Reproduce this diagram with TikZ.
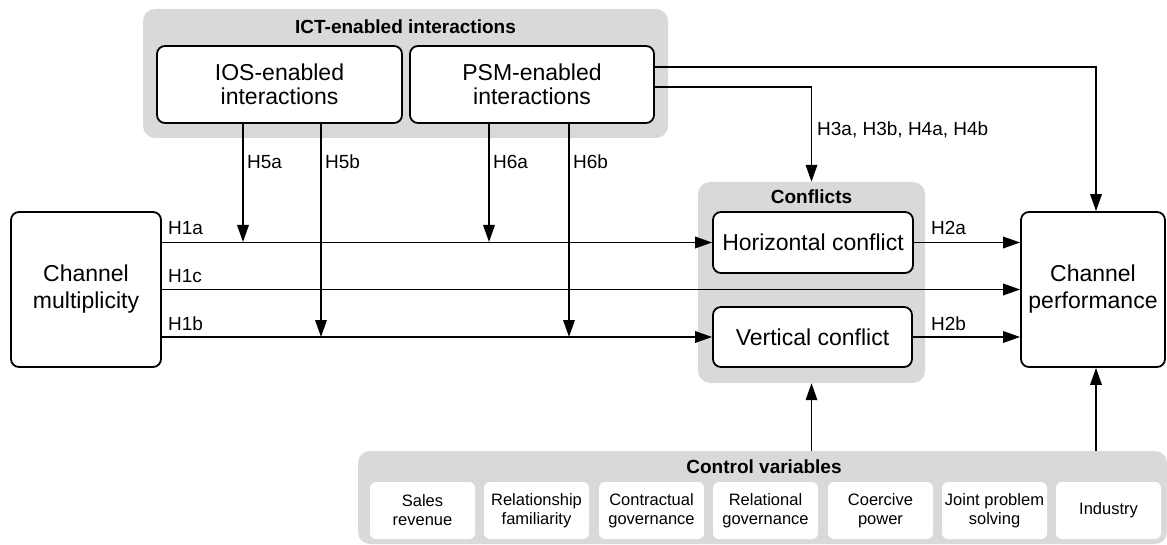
\documentclass[tikz,border=0pt]{standalone}
\usepackage{fontspec}
\setmainfont{Liberation Sans}
\usetikzlibrary{arrows.meta,calc}
\definecolor{grp}{HTML}{D9D9D9}
\tikzset{
  grpbox/.style={fill=grp, draw=none, rounded corners=12pt, inner sep=0pt},
  mainbox/.style={draw=black, line width=1.8pt, fill=white, rounded corners=8pt, align=center, inner sep=0pt},
  ctrlbox/.style={fill=white, draw=none, rounded corners=6pt, align=center, inner sep=0pt,
    minimum width=105pt, minimum height=57pt, font=\fontsize{16.5}{19}\selectfont},
  grptitle/.style={font=\bfseries\fontsize{19}{22}\selectfont, inner sep=0pt},
  lbl/.style={font=\fontsize{19}{22}\selectfont, inner sep=0pt, anchor=west},
  arr/.style={line width=1.8pt, -{Triangle[length=17pt,width=11.5pt]}},
}
\begin{document}
\begin{tikzpicture}[x=1pt,y=-1pt]
\useasboundingbox (0,0) rectangle (1167,545);
% groups
\node[grpbox, minimum width=525pt, minimum height=129pt] (ict) at (405.5,73.5) {};
\node[grptitle] (ictt) at (405.5,27) {ICT-enabled interactions};
\node[grpbox, minimum width=227pt, minimum height=201pt] (conf) at (811.5,282.5) {};
\node[grptitle] (conft) at (811.5,197) {Conflicts};
\node[grpbox, minimum width=809pt, minimum height=93pt] (ctrl) at (762.5,497.5) {};
\node[grptitle] (ctrlt) at (764,467) {Control variables};
% main boxes
\node[mainbox, minimum width=245pt, minimum height=77pt, font=\fontsize{23}{24}\selectfont] (ios) at (279.5,84.5) {IOS-enabled\\interactions};
\node[mainbox, minimum width=244pt, minimum height=77pt, font=\fontsize{23}{24}\selectfont] (psm) at (532,84.5) {PSM-enabled\\interactions};
\node[mainbox, minimum width=150pt, minimum height=155pt, font=\fontsize{23}{27}\selectfont] (mult) at (86,289.5) {Channel\\multiplicity};
\node[mainbox, minimum width=200pt, minimum height=61pt, font=\fontsize{23}{27}\selectfont] (hor) at (813,242.5) {Horizontal conflict};
\node[mainbox, minimum width=199pt, minimum height=60pt, font=\fontsize{23}{27}\selectfont] (ver) at (812.5,337) {Vertical conflict};
\node[mainbox, minimum width=144pt, minimum height=155pt, font=\fontsize{23}{27}\selectfont] (perf) at (1093,289.5) {Channel\\performance};
% control variables
\node[ctrlbox] (c1) at (422.5,510.5) {Sales\\revenue};
\node[ctrlbox] (c2) at (536.5,510.5) {Relationship\\familiarity};
\node[ctrlbox] (c3) at (651.5,510.5) {Contractual\\governance};
\node[ctrlbox] (c4) at (765.5,510.5) {Relational\\governance};
\node[ctrlbox] (c5) at (880.5,510.5) {Coercive\\power};
\node[ctrlbox] (c6) at (994.5,510.5) {Joint problem\\solving};
\node[ctrlbox] (c7) at (1108.5,510.5) {Industry};
% coordinates
\coordinate (p5a) at (243,242);
\coordinate (p6a) at (489,242);
\coordinate (p5b) at (321,337);
\coordinate (p6b) at (569,337);
\coordinate (ptop) at ([xshift=3pt]perf.north);
\coordinate (pbot) at ([xshift=3pt]perf.south);
% horizontal paths
\draw[arr] (mult.east |- hor.west) -- (hor.west);
\draw[arr] (mult.east) -- (perf.west);
\draw[arr] (mult.east |- ver.west) -- (ver.west);
\draw[arr] (hor.east) -- (perf.west |- hor.east);
\draw[arr] (ver.east) -- (perf.west |- ver.east);
% moderators
\draw[arr] (ios.south -| p5a) -- (p5a);
\draw[arr] (ios.south -| p5b) -- (p5b);
\draw[arr] (psm.south -| p6a) -- (p6a);
\draw[arr] (psm.south -| p6b) -- (p6b);
% ict to conflicts / performance
\draw[arr] ([yshift=-2.5pt]psm.east) -| (conf.north);
\draw[arr] ([yshift=17.5pt]psm.east) -| (ptop);
% controls
\draw[arr] (ctrl.north -| conf.south) -- (conf.south);
\draw[arr] (ctrl.north -| pbot) -- (pbot);
% labels
\node[lbl] (l5a) at (247,162) {H5a};
\node[lbl] (l5b) at (325,162) {H5b};
\node[lbl] (l6a) at (493,162) {H6a};
\node[lbl] (l6b) at (573,162) {H6b};
\node[lbl] (l3) at (817,130) {H3a, H3b, H4a, H4b};
\node[lbl] (l1a) at (168,228) {H1a};
\node[lbl] (l1c) at (168,276) {H1c};
\node[lbl] (l1b) at (168,324) {H1b};
\node[lbl] (l2a) at (931,228) {H2a};
\node[lbl] (l2b) at (931,324) {H2b};
\end{tikzpicture}
\end{document}
